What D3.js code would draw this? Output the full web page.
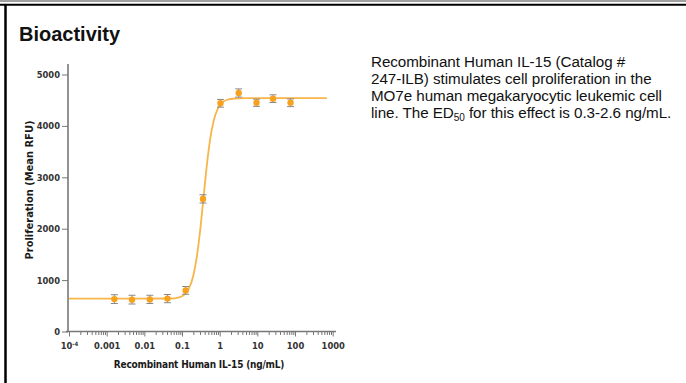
<!DOCTYPE html>
<html lang="en">
  <head>
    <meta charset="UTF-8" />
    <title>Bioactivity</title>
    <style>
      body {
        margin: 0;
        background: #fff;
      }
      svg {
        display: block;
      }
      .tick text {
        font-family: "Liberation Sans Narrow", "DejaVu Sans Condensed", Arial, sans-serif;
        font-weight: bold;
        font-size: 9.3px;
        fill: #333;
      }
      .axis path,
      .axis line {
        stroke: #777;
      }
      .ttl {
        font-family: "Liberation Sans Narrow", "DejaVu Sans Condensed", Arial, sans-serif;
        font-weight: bold;
        font-size: 11px;
        fill: #1a1a1a;
      }
      .desc {
        font-family: "Liberation Sans", Arial, sans-serif;
        font-size: 15.2px;
        fill: #111;
        letter-spacing: -0.05px;
      }
    </style>
  </head>
  <body>
    <svg width="686" height="383"></svg>

    <script src="https://d3js.org/d3.v7.min.js"></script>
    <script>
      // measured points (ng/mL, mean RFU, error)
      var conc = [0.0016, 0.0047, 0.014, 0.041, 0.125, 0.36, 1.05, 3.2, 9.5, 26, 76];
      var mean = [630, 620, 625, 640, 800, 2580, 4440, 4640, 4450, 4530, 4450];
      var err = [85, 85, 80, 80, 75, 80, 75, 80, 70, 75, 75];

      // fitted curve
      var fitX = [0.0001, 0.01, 0.05, 0.08, 0.12, 0.15, 0.2, 0.25, 0.3, 0.37, 0.45, 0.55, 0.7, 0.9, 1.2, 1.6, 2.5, 5, 700];
      var fitY = [640, 640, 642, 660, 728, 824, 1089, 1475, 1936, 2588, 3197, 3710, 4115, 4343, 4461, 4509, 4533, 4540, 4540];

      var yTicks = [0, 1000, 2000, 3000, 4000, 5000];
      var xTicks = [1e-4, 0.001, 0.01, 0.1, 1, 10, 100, 1000];
      var xLabels = ["10-4", "0.001", "0.01", "0.1", "1", "10", "100", "1000"];

      var desc = [
        "Recombinant Human IL-15 (Catalog #",
        "247-ILB) stimulates cell proliferation in the",
        "MO7e human megakaryocytic leukemic cell",
      ];

      var svg = d3.select("svg");

      // frame
      svg.append("line").attr("x1", 0).attr("x2", 686).attr("y1", 1).attr("y2", 1)
        .attr("stroke", "#444").attr("stroke-width", 1.2);
      svg.append("line").attr("x1", 0).attr("x2", 686).attr("y1", 4.8).attr("y2", 4.8)
        .attr("stroke", "#000").attr("stroke-width", 2);
      svg.append("line").attr("x1", 5.5).attr("x2", 5.5).attr("y1", 4).attr("y2", 383)
        .attr("stroke", "#000").attr("stroke-width", 2.5);

      svg.append("text")
        .attr("x", 19)
        .attr("y", 41)
        .style("font-family", "'Liberation Sans', Arial, sans-serif")
        .style("font-weight", "bold")
        .style("font-size", "20px")
        .attr("fill", "#111")
        .text("Bioactivity");

      var x = d3.scaleLog().domain([1e-4, 1000]).range([69, 332.7]);
      var y = d3.scaleLinear().domain([0, 5000]).range([331.5, 74.5]);

      // y axis
      var gy = svg.append("g").attr("class", "axis")
        .attr("transform", "translate(68,0)")
        .call(d3.axisLeft(y).tickValues(yTicks).tickSize(6).tickPadding(2).tickFormat(d3.format("d")));
      gy.select(".domain").remove();
      gy.append("line").attr("x1", 0).attr("x2", 0).attr("y1", 64).attr("y2", 332)
        .attr("stroke", "#777").attr("stroke-width", 1.6);

      // x axis: minor ticks, then decades
      var minors = [];
      for (var e = -4; e < 3; e++) {
        for (var m = 2; m < 10; m++) minors.push(m * Math.pow(10, e));
      }
      var gxm = svg.append("g").attr("class", "axis")
        .attr("transform", "translate(0,331.5)")
        .call(d3.axisBottom(x).tickValues(minors).tickSize(3.5).tickFormat(""));
      gxm.select(".domain").remove();
      gxm.selectAll("line").attr("stroke", "#999");

      var gx = svg.append("g").attr("class", "axis")
        .attr("transform", "translate(0,331.5)")
        .call(d3.axisBottom(x).tickValues(xTicks).tickSize(5).tickPadding(6)
          .tickFormat(function (d, i) { return xLabels[i]; }));
      gx.select(".domain").remove();
      gx.append("line").attr("x1", 66).attr("x2", 336).attr("y1", 0).attr("y2", 0)
        .attr("stroke", "#777").attr("stroke-width", 1.6);
      // superscript on 10^-4
      var t0 = gx.selectAll(".tick text").filter(function (d) { return d === 1e-4; });
      t0.text("10");
      t0.append("tspan").attr("dy", -3).style("font-size", "6px").text("-4");

      // axis titles
      svg.append("text").attr("class", "ttl")
        .attr("transform", "translate(33,190) rotate(-90)")
        .attr("text-anchor", "middle")
        .text("Proliferation (Mean RFU)");
      svg.append("text").attr("class", "ttl")
        .attr("x", 199)
        .attr("y", 368)
        .attr("text-anchor", "middle")
        .style("font-size", "10px")
        .style("letter-spacing", "-0.2px")
        .text("Recombinant Human IL-15 (ng/mL)");

      // fitted curve
      var line = d3.line()
        .x(function (d, i) { return x(fitX[i]); })
        .y(function (d) { return y(d); })
        .curve(d3.curveMonotoneX);
      svg.append("path")
        .attr("d", line(fitY))
        .attr("fill", "none")
        .attr("stroke", "#f8b54a")
        .attr("stroke-width", 1.8);

      // error bars
      var eb = svg.append("g").attr("stroke", "#888").attr("stroke-width", 1);
      conc.forEach(function (c, i) {
        var cx = x(c);
        eb.append("line").attr("x1", cx).attr("x2", cx)
          .attr("y1", y(mean[i] - err[i])).attr("y2", y(mean[i] + err[i]));
        eb.append("line").attr("x1", cx - 3.5).attr("x2", cx + 3.5)
          .attr("y1", y(mean[i] - err[i])).attr("y2", y(mean[i] - err[i]));
        eb.append("line").attr("x1", cx - 3.5).attr("x2", cx + 3.5)
          .attr("y1", y(mean[i] + err[i])).attr("y2", y(mean[i] + err[i]));
      });

      // points
      svg.selectAll("circle.pt")
        .data(mean)
        .join("circle")
        .attr("class", "pt")
        .attr("cx", function (d, i) { return x(conc[i]); })
        .attr("cy", function (d) { return y(d); })
        .attr("r", 3.2)
        .attr("fill", "#f7a21e");

      // description text
      var dt = svg.append("text").attr("class", "desc");
      desc.forEach(function (s, i) {
        dt.append("tspan").attr("x", 371).attr("y", 67 + i * 17).text(s);
      });
      var last = dt.append("tspan").attr("x", 371).attr("y", 67 + 3 * 17);
      last.text("line. The ED");
      dt.append("tspan").attr("dy", 3).style("font-size", "10px").text("50");
      dt.append("tspan").attr("dy", -3).text(" for this effect is 0.3-2.6 ng/mL.");
    </script>
  </body>
</html>
